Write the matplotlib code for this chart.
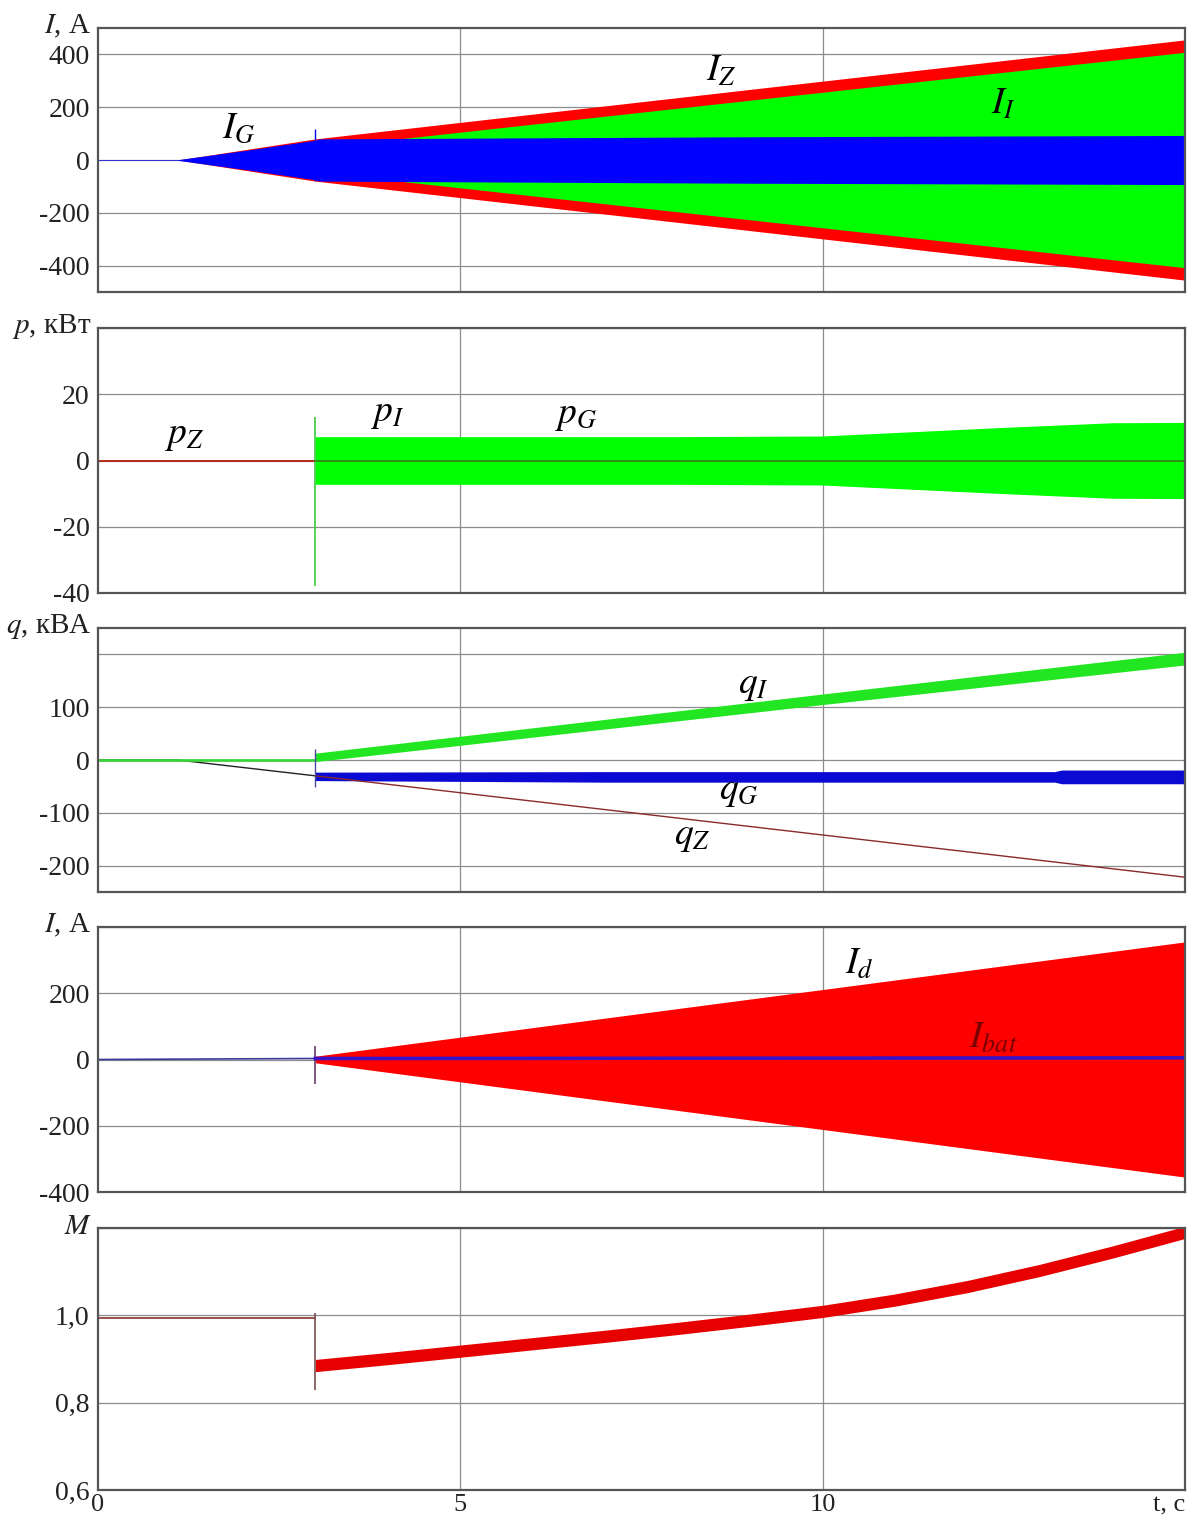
import matplotlib
matplotlib.use("Agg")
import matplotlib.pyplot as plt

plt.rcParams["font.family"] = ["Liberation Serif", "DejaVu Serif"]
plt.rcParams["mathtext.fontset"] = "stix"

# ---------------- data (envelopes of the oscillating signals) ----------------
# Panel 1: currents, A
t_iz = [0.0, 1.1, 3.0, 15.0]
iz_amp = [0, 0, 80, 455]
t_ii = [3.0, 15.0]
ii_amp = [45, 408]
t_ig = [0.0, 1.1, 2.0, 3.0, 3.05, 9.0, 15.0]
ig_amp = [1.2, 1.2, 35, 75, 80, 88, 93]
ig_spike = [-80, 118]

# Panel 2: active power, kW
t_pz = [0.0, 3.0]
pz = [0, 0]
t_pg = [3.0, 15.0]
pg = [0, 0]
t_pi = [3.0, 8.0, 10.0, 12.5, 14.0, 15.0]
pi_amp = [7.2, 7.2, 7.4, 10.0, 11.4, 11.5]
pi_spike = [-38, 13]

# Panel 3: reactive power, kVA
t_qi_pre = [0.0, 3.0]
qi_pre = [0, 0]
t_qi = [3.0, 10.0, 15.0]
qi_mid = [5, 115, 192]
qi_half = [8, 10, 12]
t_qg = [3.0, 7.0, 13.2, 13.3, 15.0]
qg_mid = [-31, -32, -32, -32, -32]
qg_half = [8, 10, 10, 13, 13]
qg_spike = [-51, 20]
t_qz = [0.0, 1.1, 3.0, 15.0]
qz = [0, 0, -30, -222]

# Panel 4: DC-link currents, A
t_id = [3.0, 15.0]
id_amp = [10, 355]
id_spike = [-75, 40]
t_ibat = [0.0, 3.0, 15.0]
ibat = [0, 3, 5]

# Panel 5: modulation index
t_m_pre = [0.0, 0.0, 3.0]
m_pre = [0.6, 0.995, 0.995]
t_m = [3, 4, 5, 6, 7, 8, 9, 10, 11, 12, 13, 14, 15]
m_mid = [0.885, 0.901, 0.918, 0.935, 0.952, 0.970, 0.989, 1.009,
         1.035, 1.066, 1.103, 1.145, 1.19]
m_half = 0.014
m_spike = [0.83, 1.005]

t_step = 3.0

# ---------------- figure ----------------
W, H = 1197, 1524
fig = plt.figure(figsize=(W / 100, H / 100), dpi=100)

left, right = 98 / W, 1185 / W
rows = [(28, 292), (328, 593), (628, 892), (927, 1192), (1228, 1490)]
axes = []
for top, bot in rows:
    ax = fig.add_axes([left, 1 - bot / H, right - left, (bot - top) / H])
    axes.append(ax)

RED = "#ff0000"
GREEN = "#00ff00"
BLUE = "#0000ff"
GRID = "#8c8c8c"
TICK_FS = 20
UNIT_FS = 21
LAB_FS = 27


def style(ax, ylim, yticks, ylabels, unit_label):
    ax.set_xlim(0, 15)
    ax.set_ylim(*ylim)
    ax.set_yticks(yticks)
    ax.set_yticklabels(ylabels, fontsize=TICK_FS, color="#222222")
    ax.set_xticks([5, 10])
    ax.grid(True, color=GRID, lw=0.9)
    ax.set_axisbelow(True)
    ax.tick_params(length=0, pad=6)
    ax.tick_params(axis="x", labelbottom=False)
    for s in ax.spines.values():
        s.set_color("#555555")
        s.set_linewidth(1.6)
    ax.text(-0.006, 1.005, unit_label, transform=ax.transAxes, ha="right",
            va="center", fontsize=UNIT_FS, color="#222222")


# Panel 1
ax = axes[0]
style(ax, (-500, 500), [-400, -200, 0, 200, 400],
      ["-400", "-200", "0", "200", "400"], r"$I$, A")
ax.fill_between(t_iz, [-a for a in iz_amp], iz_amp, color=RED, lw=0)
ax.fill_between(t_ii, [-a for a in ii_amp], ii_amp, color=GREEN, lw=0)
ax.fill_between(t_ig, [-a for a in ig_amp], ig_amp, color=BLUE, lw=0)
ax.vlines(t_step, ig_spike[0], ig_spike[1], color=BLUE, lw=1)
ax.text(1.95, 118, r"$I_G$", fontsize=LAB_FS, ha="center", va="center")
ax.text(8.6, 335, r"$I_Z$", fontsize=LAB_FS, ha="center", va="center")
ax.text(12.5, 210, r"$I_I$", fontsize=LAB_FS, ha="center", va="center")

# Panel 2
ax = axes[1]
style(ax, (-40, 40), [-40, -20, 0, 20, 40], ["-40", "-20", "0", "20", ""],
      r"$p$, кВт")
ax.fill_between(t_pi, [-a for a in pi_amp], pi_amp, color=GREEN, lw=0)
ax.vlines(t_step, pi_spike[0], pi_spike[1], color="#3cc83c", lw=1.2)
ax.plot(t_pz, pz, color="#b22a1a", lw=1.4)
ax.plot(t_pg, pg, color="#2f8f10", lw=1.4)
ax.text(1.2, 7.5, r"$p_Z$", fontsize=LAB_FS, ha="center", va="center")
ax.text(4.0, 14, r"$p_I$", fontsize=LAB_FS, ha="center", va="center")
ax.text(6.6, 13.5, r"$p_G$", fontsize=LAB_FS, ha="center", va="center")

# Panel 3
ax = axes[2]
style(ax, (-250, 250), [-200, -100, 0, 100, 200],
      ["-200", "-100", "0", "100", ""], r"$q$, кВА")
ax.plot(t_qz[:3], qz[:3], color="#222222", lw=1.0)
ax.plot(t_qz[2:], qz[2:], color="#8a2a2a", lw=1.0)
ax.plot(t_qi_pre, qi_pre, color="#3cd23c", lw=2.0)
ax.fill_between(t_qi, [m - h for m, h in zip(qi_mid, qi_half)],
                [m + h for m, h in zip(qi_mid, qi_half)], color="#22e622", lw=0)
ax.fill_between(t_qg, [m - h for m, h in zip(qg_mid, qg_half)],
                [m + h for m, h in zip(qg_mid, qg_half)], color="#0a0ad2", lw=0)
ax.vlines(t_step, qg_spike[0], qg_spike[1], color="#4a4a9a", lw=1.0)
ax.text(9.05, 140, r"$q_I$", fontsize=LAB_FS, ha="center", va="center")
ax.text(8.85, -60, r"$q_G$", fontsize=LAB_FS, ha="center", va="center")
ax.text(8.2, -145, r"$q_Z$", fontsize=LAB_FS, ha="center", va="center")

# Panel 4
ax = axes[3]
style(ax, (-400, 400), [-400, -200, 0, 200, 400],
      ["-400", "-200", "0", "200", ""], r"$I$, A")
ax.fill_between(t_id, [-a for a in id_amp], id_amp, color=RED, lw=0)
ax.vlines(t_step, id_spike[0], id_spike[1], color="#6a3a6a", lw=1.2)
ax.plot(t_ibat[:2], ibat[:2], color="#3a3a9a", lw=1.2)
ax.plot(t_ibat[1:], ibat[1:], color="#3a10c8", lw=2.6)
ax.text(10.5, 285, r"$I_d$", fontsize=LAB_FS, ha="center", va="center")
ax.text(12.35, 63, r"$I_{bat}$", fontsize=LAB_FS, ha="center", va="center",
        color="#7a0000")

# Panel 5
ax = axes[4]
style(ax, (0.6, 1.2), [0.6, 0.8, 1.0, 1.2], ["0,6", "0,8", "1,0", ""], r"$M$")
ax.plot(t_m_pre, m_pre, color="#8a3030", lw=1.2)
ax.vlines(t_step, m_spike[0], m_spike[1], color="#7a5050", lw=1.2)
ax.fill_between(t_m, [m - m_half for m in m_mid], [m + m_half for m in m_mid],
                color="#e60000", lw=0)
ax.set_xticks([0, 5, 10, 15])
ax.set_xticklabels(["0", "5", "10", "t, с"], fontsize=TICK_FS - 1,
                   color="#222222")
ax.tick_params(axis="x", labelbottom=True, pad=3)
ax.get_xticklabels()[-1].set_horizontalalignment("right")
ax.xaxis.get_gridlines()[0].set_visible(False)
ax.xaxis.get_gridlines()[-1].set_visible(False)

fig.savefig("out.png", dpi=100, facecolor="white")
